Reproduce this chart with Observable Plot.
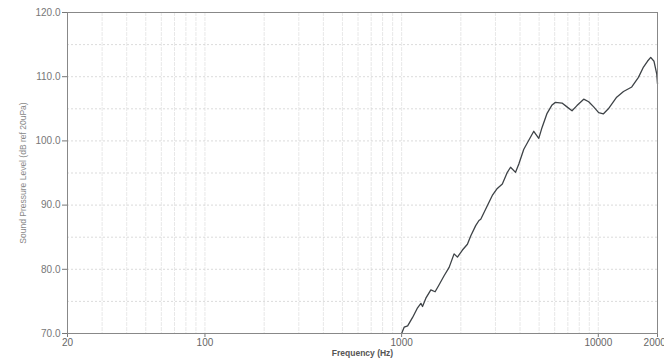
<!DOCTYPE html>
<html>
<head>
<meta charset="utf-8">
<script src="https://cdn.jsdelivr.net/npm/d3@7"></script>
<script src="https://cdn.jsdelivr.net/npm/@observablehq/plot@0.6"></script>
<style>
  html, body { margin: 0; padding: 0; background: #fff; }
  #chart { width: 664px; height: 358px; overflow: hidden; }
</style>
</head>
<body>
<div id="chart"></div>
<script>
// Frequency response (Hz, dB SPL)
const freqHz = [1000, 1031, 1073, 1137, 1205, 1253, 1277, 1328, 1408, 1480, 1551, 1644, 1744, 1848, 1922, 2038, 2160, 2245, 2380, 2473, 2525, 2727, 2891, 3065, 3251, 3447, 3580, 3795, 3944, 4180, 4432, 4698, 4981, 5177, 5490, 5820, 6050, 6540, 6930, 7350, 7790, 8430, 8938, 9475, 10045, 10600, 11250, 12400, 13430, 14800, 16000, 16970, 17780, 18470, 19200, 19830, 20000];
const splDb = [70.0, 71.0, 71.2, 72.5, 74.0, 74.7, 74.2, 75.5, 76.8, 76.5, 77.6, 79.0, 80.3, 82.4, 81.9, 83.0, 83.9, 85.2, 86.8, 87.6, 87.8, 89.9, 91.5, 92.6, 93.3, 95.1, 95.9, 95.1, 96.4, 98.7, 100.1, 101.5, 100.4, 102.1, 104.3, 105.6, 106.0, 105.9, 105.3, 104.7, 105.5, 106.5, 106.1, 105.3, 104.4, 104.2, 105.0, 106.8, 107.7, 108.4, 109.9, 111.5, 112.4, 113.0, 112.4, 110.4, 108.9];

// Axis ticks and grid
const xTickLabels = [20, 100, 1000, 10000, 20000];
const yTickLabels = [70, 80, 90, 100, 110, 120];
const xGrid = [20, 30, 40, 50, 60, 70, 80, 90, 100, 200, 300, 400, 500, 600, 700, 800, 900, 1000, 2000, 3000, 4000, 5000, 6000, 7000, 8000, 9000, 10000, 20000];
const yGrid = [75, 80, 85, 90, 95, 100, 105, 110, 115];

const data = freqHz.map((f, i) => ({f, db: splDb[i]}));

const chart = Plot.plot({
  width: 664,
  height: 358,
  marginLeft: 67,
  marginRight: 7,
  marginTop: 12,
  marginBottom: 25,
  style: {fontFamily: "'Liberation Sans', Arial, sans-serif", fontSize: "10px", background: "#fff", color: "#666"},
  x: {type: "log", domain: [20, 20000]},
  y: {domain: [70, 120]},
  marks: [
    Plot.ruleX(xGrid, {stroke: "#e2e2e2", strokeWidth: 0.8, strokeDasharray: "4,1"}),
    Plot.ruleY(yGrid, {stroke: "#d2d2d2", strokeWidth: 0.8, strokeDasharray: "2,2"}),
    Plot.line(data, {x: "f", y: "db", stroke: "#3e4347", strokeWidth: 1.3, curve: "linear"}),
    Plot.axisX(xTickLabels, {
      tickFormat: d => String(d), tickSize: 4, tickPadding: 1, stroke: "#777", fill: "#666",
      label: "Frequency (Hz)", labelAnchor: "center", labelArrow: "none", labelOffset: 22
    }),
    Plot.axisY(yTickLabels, {
      tickFormat: d => d.toFixed(1), tickSize: 5, tickPadding: 2, stroke: "#777", fill: "#777",
      label: "Sound Pressure Level (dB ref 20uPa)", labelAnchor: "center", labelArrow: "none", labelOffset: 48
    }),
    Plot.frame({stroke: "#888", strokeWidth: 1})
  ]
});

// style axis titles
chart.querySelectorAll("g[aria-label='x-axis label'] text").forEach(t => {
  t.setAttribute("font-weight", "bold"); t.setAttribute("font-size", "8.5px"); t.setAttribute("fill", "#555");
});
chart.querySelectorAll("g[aria-label='y-axis label'] text").forEach(t => {
  t.setAttribute("font-size", "8.5px"); t.setAttribute("fill", "#888");
});
document.getElementById("chart").appendChild(chart);
</script>
</body>
</html>
